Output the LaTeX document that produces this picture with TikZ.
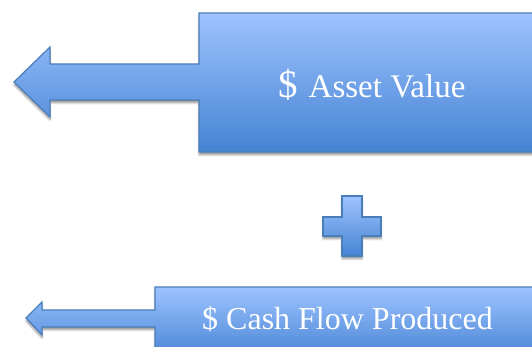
\documentclass[tikz,border=0pt]{standalone}
\usepackage{fontspec}
\setmainfont{Liberation Serif}
\usetikzlibrary{shadows.blur}
\definecolor{bluetop}{HTML}{9EC3FF}
\definecolor{bluebot}{HTML}{4583D3}
\definecolor{blueedge}{HTML}{4A7EBB}
\tikzset{
  bluefill/.style={draw=blueedge, line width=1.2pt, line join=miter, top color=bluetop, bottom color=bluebot,
    blur shadow={shadow xshift=0pt, shadow yshift=-3pt, shadow blur steps=6, shadow opacity=40}},
  label32/.style={text=white, inner sep=0pt, font=\fontsize{32}{36}\selectfont},
}
\begin{document}
\begin{tikzpicture}[x=1pt,y=1pt]
\useasboundingbox (0,0) rectangle (532,347);
\clip (0,0) rectangle (532,347);
% top callout
\path[bluefill] (199,334) -- (545,334) -- (545,195) -- (199,195) -- (199,247) -- (50,247) -- (50,230) -- (14,265) -- (50,300) -- (50,283) -- (199,283) -- cycle;
% plus
\path[bluefill] (342,151) -- (362,151) -- (362,130) -- (381,130) -- (381,111) -- (362,111) -- (362,91) -- (342,91) -- (342,111) -- (323,111) -- (323,130) -- (342,130) -- cycle;
% bottom callout
\path[bluefill] (155,60) -- (545,60) -- (545,-13) -- (155,-13) -- (155,20) -- (42,20) -- (42,12) -- (26,29) -- (42,45) -- (42,37) -- (155,37) -- cycle;
\node[label32, anchor=base west] (asset) at (278,249) {{\fontsize{39}{40}\selectfont\$}\hspace{11pt}{\fontsize{33}{36}\selectfont Asset Value}};
\node[label32, anchor=base west] (cash) at (202,17) {\$ Cash Flow Produced};
\end{tikzpicture}
\end{document}
